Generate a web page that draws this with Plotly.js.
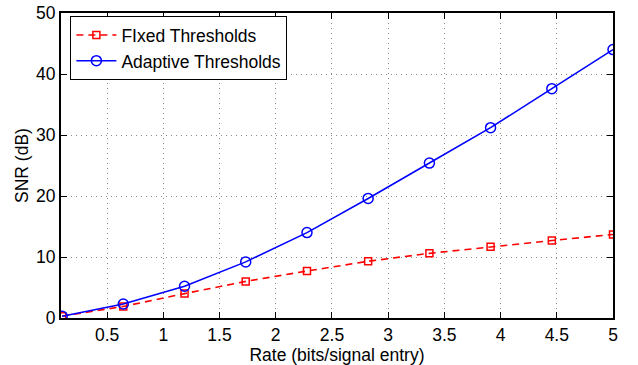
<!DOCTYPE html>
<html><head><meta charset="utf-8">
<script src="https://cdn.plot.ly/plotly-3.0.1.min.js"></script>
<style>html,body{margin:0;padding:0;background:#fff;}#chart{width:638px;height:365px;}</style>
</head><body><div id="chart"></div>
<script>
const rate = [0.1, 0.644, 1.189, 1.733, 2.278, 2.822, 3.367, 3.911, 4.456, 5.0];
const fixedSNR = [0.3, 1.9, 4.0, 6.0, 7.7, 9.3, 10.6, 11.7, 12.7, 13.7];
const adaptiveSNR = [0.3, 2.3, 5.2, 9.2, 14.0, 19.6, 25.4, 31.2, 37.6, 44.0];
const xTicks = [0.5, 1, 1.5, 2, 2.5, 3, 3.5, 4, 4.5, 5];
const xTickText = ['0.5', '1', '1.5', '2', '2.5', '3', '3.5', '4', '4.5', '5'];
const yTicks = [0, 10, 20, 30, 40, 50];

const traces = [
  {x: rate, y: fixedSNR, name: 'FIxed Thresholds', mode: 'lines+markers',
   line: {color: '#ff0000', dash: '7px,5px', width: 1.6},
   marker: {symbol: 'square-open', size: 7, color: '#ff0000', line: {width: 1.5}}},
  {x: rate, y: adaptiveSNR, name: 'Adaptive Thresholds', mode: 'lines+markers',
   line: {color: '#0000ff', width: 1.6},
   marker: {symbol: 'circle-open', size: 10, color: '#0000ff', line: {width: 1.5}}}
];
const fam = 'Liberation Sans, Arial, sans-serif';
const layout = {
  width: 638, height: 365,
  margin: {l: 61, r: 25, t: 13, b: 47},
  paper_bgcolor: '#fff', plot_bgcolor: '#fff',
  font: {family: fam, size: 17, color: '#000'},
  showlegend: true,
  legend: {x: 0.017, y: 0.99, xanchor: 'left', yanchor: 'top', bordercolor: '#000', borderwidth: 1,
           bgcolor: '#fff', font: {family: fam, size: 17.5, color: '#000'}, tracegroupgap: 0,
           itemwidth: 40},
  xaxis: {range: [0.09, 5], tickvals: xTicks, ticktext: xTickText, ticks: 'inside', ticklen: 6,
          tickcolor: '#000', showline: true, linecolor: '#000', linewidth: 2, mirror: 'ticks',
          showgrid: true, gridcolor: '#888', griddash: '1px,4px', gridwidth: 1, zeroline: false,
          title: {text: 'Rate (bits/signal entry)', font: {size: 17.5}, standoff: 2},
          tickfont: {size: 17.5}},
  yaxis: {range: [0, 50], tickvals: yTicks, ticks: 'inside', ticklen: 6,
          tickcolor: '#000', showline: true, linecolor: '#000', linewidth: 2, mirror: 'ticks',
          showgrid: true, gridcolor: '#888', griddash: '1px,4px', gridwidth: 1, zeroline: false,
          title: {text: 'SNR (dB)', font: {size: 17.5}, standoff: 3},
          tickfont: {size: 17.5}}
};
Plotly.newPlot('chart', traces, layout, {displayModeBar: false, staticPlot: true});
</script></body></html>
